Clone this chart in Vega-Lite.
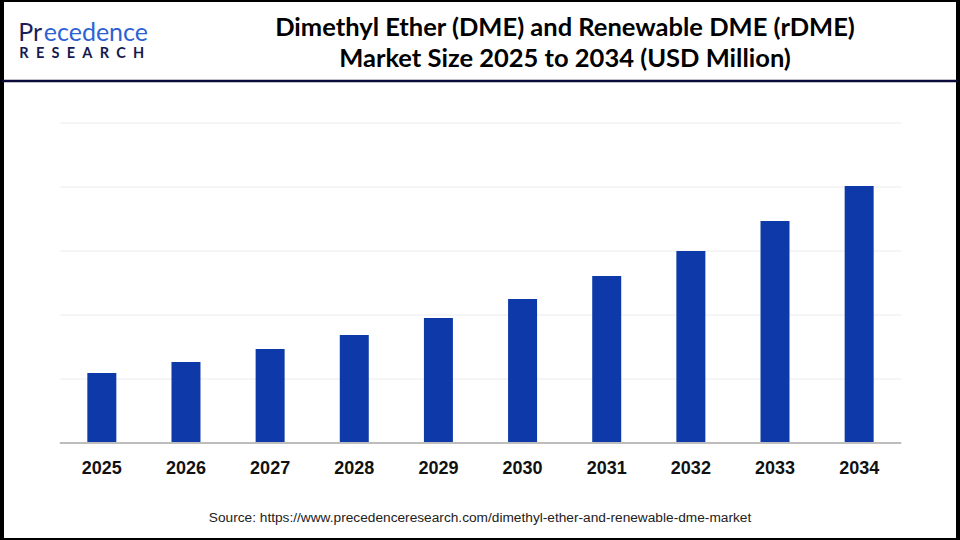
{
  "$schema": "https://vega.github.io/schema/vega-lite/v6.json",
  "width": 960,
  "height": 540,
  "autosize": {"type": "fit", "contains": "padding"},
  "padding": 0,
  "background": "#ffffff",
  "config": {
    "view": {"stroke": "#000000", "strokeWidth": 4}
  },
  "title": {
    "text": ["Dimethyl Ether (DME) and Renewable DME (rDME)", "Market Size 2025 to 2034 (USD Million)"],
    "anchor": "middle",
    "frame": "group",
    "dx": 85,
    "offset": -72,
    "font": "Lato",
    "fontSize": 25.5,
    "fontWeight": "bold",
    "color": "#000000",
    "lineHeight": 31
  },
  "datasets": {
    "market": [
      {"year": 2025, "value": 1094},
      {"year": 2026, "value": 1266},
      {"year": 2027, "value": 1469},
      {"year": 2028, "value": 1688},
      {"year": 2029, "value": 1953},
      {"year": 2030, "value": 2250},
      {"year": 2031, "value": 2609},
      {"year": 2032, "value": 3000},
      {"year": 2033, "value": 3469},
      {"year": 2034, "value": 4016}
    ],
    "grid": [
      {"level": 1000},
      {"level": 2000},
      {"level": 3000},
      {"level": 4000},
      {"level": 5000}
    ]
  },
  "layer": [
    {
      "data": {"name": "grid"},
      "mark": {"type": "rule", "color": "#ececec", "strokeWidth": 1},
      "encoding": {
        "x": {"datum": 2024.5, "scale": {"domain": [2023.8136, 2035.1746], "nice": false, "zero": false, "padding": 0}, "axis": null},
        "x2": {"datum": 2034.5},
        "y": {"field": "level", "type": "quantitative", "scale": {"domain": [-1515.6, 6921.9], "nice": false, "zero": false, "padding": 0}, "axis": null}
      }
    },
    {
      "data": {"name": "market"},
      "mark": {"type": "bar", "size": 29, "color": "#0e3aa9"},
      "encoding": {
        "x": {"field": "year", "type": "quantitative", "axis": null},
        "y": {"field": "value", "type": "quantitative", "axis": null},
        "y2": {"datum": 0}
      }
    },
    {
      "data": {"values": [{"edge": "baseline"}]},
      "mark": {"type": "rule", "color": "#bdbdbd", "strokeWidth": 2},
      "encoding": {
        "x": {"datum": 2024.5},
        "x2": {"datum": 2034.5},
        "y": {"datum": 0}
      }
    },
    {
      "data": {"name": "market"},
      "mark": {"type": "text", "font": "Liberation Sans", "fontSize": 18, "fontWeight": "bold", "color": "#111111", "baseline": "alphabetic"},
      "encoding": {
        "x": {"field": "year", "type": "quantitative"},
        "y": {"datum": -484},
        "text": {"field": "year", "type": "ordinal"}
      }
    },
    {
      "data": {"values": [{"edge": "header"}]},
      "mark": {"type": "rule", "color": "#0b0b3b", "strokeWidth": 2.5},
      "encoding": {
        "y": {"datum": 5656}
      }
    },
    {
      "data": {"values": [{"label": "Pr"}]},
      "mark": {"type": "text", "font": "Lato", "fontSize": 25, "color": "#1b1f5c", "align": "right", "baseline": "alphabetic"},
      "encoding": {
        "x": {"datum": 2024.29},
        "y": {"datum": 6281},
        "text": {"field": "label"}
      }
    },
    {
      "data": {"values": [{"label": "ecedence"}]},
      "mark": {"type": "text", "font": "Lato", "fontSize": 25, "color": "#2d62d3", "align": "left", "baseline": "alphabetic"},
      "encoding": {
        "x": {"datum": 2024.31},
        "y": {"datum": 6281},
        "text": {"field": "label"}
      }
    },
    {
      "data": {"values": [{"label": "R\u2002E\u2002S\u2002E\u2002A\u2002R\u2002C\u2002H"}]},
      "mark": {"type": "text", "font": "Lato", "fontSize": 14.5, "fontWeight": "bold", "color": "#15194f", "align": "left", "baseline": "alphabetic"},
      "encoding": {
        "x": {"datum": 2024.02},
        "y": {"datum": 6016},
        "text": {"field": "label"}
      }
    },
    {
      "data": {"values": [{"label": "Source: https://www.precedenceresearch.com/dimethyl-ether-and-renewable-dme-market"}]},
      "mark": {"type": "text", "font": "Liberation Sans", "fontSize": 13.7, "color": "#222222", "baseline": "alphabetic"},
      "encoding": {
        "y": {"datum": -1234},
        "text": {"field": "label"}
      }
    }
  ]
}
